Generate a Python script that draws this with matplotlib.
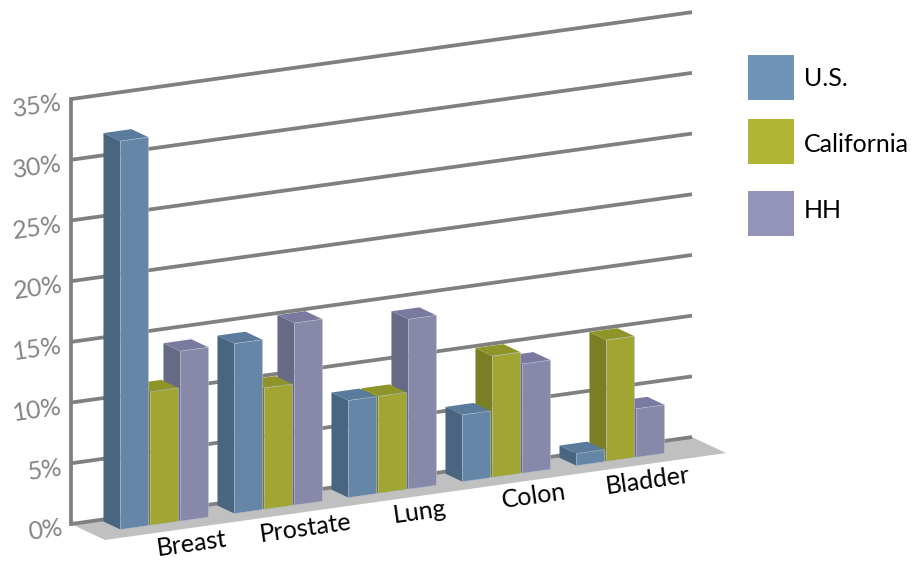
import numpy as np
import matplotlib
matplotlib.use("Agg")
import matplotlib.pyplot as plt

plt.rcParams['font.family'] = ['Lato', 'DejaVu Sans']

categories = ['Breast', 'Prostate', 'Lung', 'Colon', 'Bladder']
us = [32.0, 14.0, 8.0, 5.5, 1.0]
california = [11.0, 10.0, 8.0, 10.0, 10.0]
hh = [14.0, 15.0, 14.0, 9.0, 4.0]
ticks = [0, 5, 10, 15, 20, 25, 30, 35]

# colours: front, side, top, legend
colors = {
    'U.S.': ('#6586a7', '#4a6580', '#5a7b9b', '#7094b8'),
    'California': ('#a1a633', '#7a7f25', '#8f9428', '#b0b536'),
    'HH': ('#8888a9', '#666a85', '#7a7aa0', '#9394b8'),
}
series = [('U.S.', us), ('California', california), ('HH', hh)]

# fake 3d: u = category position, v = percent, d = depth (0 back wall, 1 floor edge)
X0, Y0 = 71, 524
CAT_W = 114
SLOPE = 0.14
PER_PCT = 12.14
DEPTH_X, DEPTH_Y = 34, 16
TILT = 8


def proj(u, v, d=0):
    px = CAT_W * u
    return X0 + px + DEPTH_X * d, Y0 - SLOPE * px - PER_PCT * v + DEPTH_Y * d


def face(ax, pts, color, zorder, edge='none'):
    xy = [proj(*p) for p in pts]
    ax.fill([p[0] for p in xy], [p[1] for p in xy], facecolor=color,
            edgecolor=edge, linewidth=0.4, zorder=zorder)


fig = plt.figure(figsize=(9.24, 5.63), dpi=100)
ax = fig.add_axes([0, 0, 1, 1])
ax.set_xlim(0, 924)
ax.set_ylim(563, 0)
ax.axis('off')

END = 621 / CAT_W

# floor
face(ax, [(0, 0, 0), (END, 0, 0), (END, 0, 1), (0, 0, 1)], '#c0c0c0', 1)

# grid lines and wall
for t in ticks:
    a, b = proj(0, t), proj(END, t)
    ax.plot([a[0], b[0]], [a[1], b[1]], color='#808080', lw=2.7, zorder=2,
            solid_capstyle='butt')
    ax.text(a[0] - 9, a[1] + 4, f'{t}%', color='#858585', fontsize=18,
            ha='right', va='center', rotation=TILT, rotation_mode='anchor')
a, b = proj(0, 0), proj(0, 35)
ax.plot([a[0], b[0]], [a[1], b[1]], color='#808080', lw=2.7, zorder=2)

# bars, drawn right to left so the nearer front faces cover the sides
D0, D1 = 0.1, 0.6
BAR_W = 0.245
z = 10
for i in range(len(categories) - 1, -1, -1):
    for j in range(2, -1, -1):
        name, vals = series[j]
        front, side, top, _ = colors[name]
        u0 = i + 0.255 + j * 0.263
        u1 = u0 + BAR_W
        v = vals[i]
        face(ax, [(u0, 0, D0), (u0, v, D0), (u0, v, D1), (u0, 0, D1)], side, z)
        face(ax, [(u0, v, D0), (u1, v, D0), (u1, v, D1), (u0, v, D1)], top, z)
        face(ax, [(u0, 0, D1), (u1, 0, D1), (u1, v, D1), (u0, v, D1)], front, z,
             edge='#b4bccb')
        z += 1

# category labels
for i, c in enumerate(categories):
    x, y = proj(i + 0.5, 0, 1)
    ax.text(x + 30, y + 12, c, color='black', fontsize=18, ha='center',
            va='center', rotation=TILT, rotation_mode='anchor', zorder=50)

# legend
legend_y = [55, 119, 191]
legend_text_y = [78, 144, 211]
for (name, _), ly, ty in zip(series, legend_y, legend_text_y):
    ax.fill([748, 794, 794, 748], [ly, ly, ly + 45, ly + 45],
            color=colors[name][3], lw=0)
    ax.text(804, ty, name, color='black', fontsize=18, ha='left', va='center')

fig.savefig('out.png', dpi=100)
